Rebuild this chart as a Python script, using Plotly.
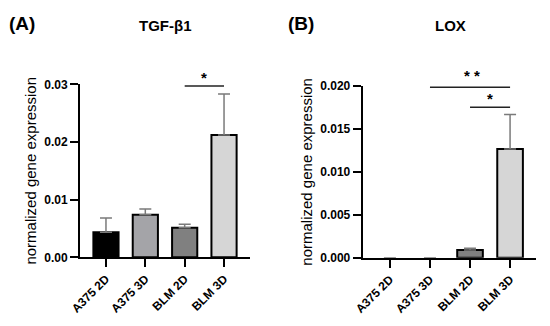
import plotly.graph_objects as go

categories = ["A375 2D", "A375 3D", "BLM 2D", "BLM 3D"]
tgf_values = [0.00433, 0.00738, 0.00513, 0.0212]
tgf_errors = [0.0025, 0.0010, 0.0006, 0.0071]
lox_values = [0.0, 0.0, 0.0009, 0.01267]
lox_errors = [0.0, 0.0, 0.0002, 0.0040]
bar_colors = ["#000000", "#a4a4a8", "#808080", "#d6d6d6"]
tgf_ticks = [0.0, 0.01, 0.02, 0.03]
tgf_ticklabels = ["0.00", "0.01", "0.02", "0.03"]
lox_ticks = [0.0, 0.005, 0.010, 0.015, 0.020]
lox_ticklabels = ["0.000", "0.005", "0.010", "0.015", "0.020"]

FONT = "Arial, Liberation Sans, sans-serif"
W, H = 550, 326

fig = go.Figure()

def add_bars(vals, errs, xa, ya):
    fig.add_trace(go.Bar(
        x=categories, y=vals, xaxis=xa, yaxis=ya, width=0.64,
        marker=dict(color=bar_colors,
                    line=dict(color="black", width=[2 if v > 0 else 0 for v in vals])),
        error_y=dict(type="data", array=errs, arrayminus=[0]*len(errs),
                     symmetric=False, color="#7a7a7a", thickness=1.5, width=6),
        showlegend=False, cliponaxis=False,
    ))

add_bars(tgf_values, tgf_errors, "x", "y")
add_bars(lox_values, lox_errors, "x2", "y2")

axis_common = dict(showline=True, linecolor="black", linewidth=2, ticks="outside",
                   ticklen=8, tickwidth=2, tickcolor="black", showgrid=False,
                   zeroline=False, mirror=False, automargin=False)
xfont = dict(family=FONT, size=12, color="black", weight="bold")
yfont = dict(family=FONT, size=12, color="black", weight="bold")
ytitle = dict(text="normalized gene expression", font=dict(family=FONT, size=15, color="black"), standoff=4)

ydomA = [(H-257.3)/H, (H-84.3)/H]
ydomB = [(H-257.7)/H, (H-86)/H]

fig.update_layout(
    width=W, height=H, margin=dict(l=0, r=0, t=0, b=0),
    plot_bgcolor="white", paper_bgcolor="white", bargap=0.3,
    xaxis=dict(domain=[80/W, 250/W], range=[-0.66, 3.66], anchor="y",
               tickangle=-45, tickfont=xfont, **axis_common),
    yaxis=dict(domain=ydomA, range=[0, 0.03], anchor="x",
               tickvals=tgf_ticks, ticktext=tgf_ticklabels, tickfont=yfont,
               title=ytitle, **axis_common),
    xaxis2=dict(domain=[362.7/W, 535.7/W], range=[-0.68, 3.64], anchor="y2",
                tickangle=-45, tickfont=xfont, **axis_common),
    yaxis2=dict(domain=ydomB, range=[0, 0.020], anchor="x2",
                tickvals=lox_ticks, ticktext=lox_ticklabels, tickfont=yfont,
                title=ytitle, **axis_common),
)

# significance lines
sig_lines = [("x", "y", 2, 3, 0.0297), ("x2", "y2", 1, 3, 0.01985), ("x2", "y2", 2, 3, 0.01753)]
for xr, yr, x0, x1, yv in sig_lines:
    fig.add_shape(type="line", xref=xr, yref=yr, x0=x0, x1=x1, y0=yv, y1=yv,
                  line=dict(color="#222222", width=1.5))

# stars: (x axis, y domain, category position, value, y-range top, text)
stars = [("x", ydomA, 2.5, 0.0312, 0.03, "*"), ("x2", ydomB, 2.04, 0.0212, 0.020, "* *"),
         ("x2", ydomB, 2.5, 0.0186, 0.020, "*")]
for xr, dom, xv, yv, top, t in stars:
    fig.add_annotation(xref=xr, yref="paper", x=xv, y=dom[0] + (dom[1]-dom[0]) * yv / top,
                       text=t, showarrow=False, yanchor="middle",
                       font=dict(family=FONT, size=15, color="black", weight="bold"))

# panel labels and titles
for txt, xp, yp, sz in [("(A)", 22, 23, 19), ("(B)", 301, 23, 19),
                        ("TGF-β1", 165, 25, 15), ("LOX", 450, 25, 15)]:
    fig.add_annotation(xref="paper", yref="paper", x=xp/W, y=1-yp/H, text=txt,
                       showarrow=False, xanchor="center", yanchor="middle",
                       font=dict(family=FONT, size=sz, color="black", weight="bold"))

fig.write_html("out.html", config={"displayModeBar": False},
               post_script="document.body.style.margin='0';")
